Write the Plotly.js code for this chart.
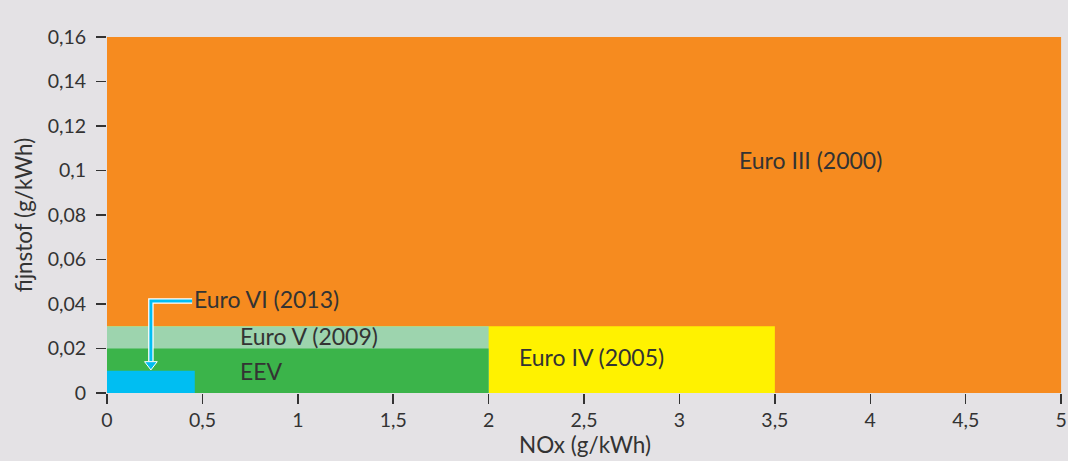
<!DOCTYPE html>
<html>
<head>
<meta charset="utf-8">
<script src="https://cdn.plot.ly/plotly-3.0.1.min.js"></script>
<style>
  html, body { margin: 0; padding: 0; background: #E4E2E5; }
  #chart { width: 1068px; height: 461px; }
</style>
</head>
<body>
<div id="chart"></div>
<script>
// Emission standards (heavy-duty): NOx limit (g/kWh) and particulate limit (g/kWh)
const stages   = ['Euro III (2000)', 'Euro IV (2005)', 'Euro V (2009)', 'EEV', 'Euro VI (2013)'];
const noxLimit = [5, 3.5, 2, 2, 0.46];
const pmLimit  = [0.16, 0.03, 0.03, 0.02, 0.01];
const stageColors = ['#F68B1F', '#FFF200', '#9DD4AE', '#3BB44A', '#00BEF2'];

const xTicks = [0, 0.5, 1, 1.5, 2, 2.5, 3, 3.5, 4, 4.5, 5];
const xTickText = ['0', '0,5', '1', '1,5', '2', '2,5', '3', '3,5', '4', '4,5', '5'];
const yTicks = [0, 0.02, 0.04, 0.06, 0.08, 0.1, 0.12, 0.14, 0.16];
const yTickText = ['0', '0,02', '0,04', '0,06', '0,08', '0,1', '0,12', '0,14', '0,16'];

// label placement (layout only)
const labelPlacement = [
  {x: 3.685, y: 0.1047, xanchor: 'center'},
  {x: 2.54, y: 0.0162, xanchor: 'center'},
  {x: 0.687, y: 0.0256, xanchor: 'left'},
  {x: 0.687, y: 0.0099, xanchor: 'left'},
  {x: 0.448, y: 0.0422, xanchor: 'left'}
];
// pointer geometry for the Euro VI callout (layout only)
const pointer = {xRight: 0.446, xDrop: 0.23, yElbow: 0.0413, yHeadTop: 0.0143, yHeadCenter: 0.01285};

const textColor = '#333333';
const FONT = 'Lato, "Open Sans", sans-serif';

const shapes = stages.map((s, i) => ({
  type: 'rect', xref: 'x', yref: 'y', layer: 'below',
  x0: 0, x1: noxLimit[i], y0: 0, y1: pmLimit[i],
  fillcolor: stageColors[i], line: {width: 0}
}));

const annotations = stages.map((s, i) => ({
  x: labelPlacement[i].x, y: labelPlacement[i].y, xref: 'x', yref: 'y',
  text: s, showarrow: false, xanchor: labelPlacement[i].xanchor, yanchor: 'middle',
  font: {family: FONT, size: 23, color: textColor}
}));

const vi = 4;
const elbowX = [pointer.xRight, pointer.xDrop, pointer.xDrop];
const elbowY = [pointer.yElbow, pointer.yElbow, pointer.yHeadTop];

const traces = [
  {x: elbowX, y: elbowY, type: 'scatter', mode: 'lines',
   line: {color: '#FFFFFF', width: 5.5}, hoverinfo: 'skip', showlegend: false},
  {x: elbowX, y: elbowY, type: 'scatter', mode: 'lines',
   line: {color: stageColors[vi], width: 3}, hoverinfo: 'skip', showlegend: false},
  {x: [pointer.xDrop], y: [pointer.yHeadCenter], type: 'scatter', mode: 'markers',
   marker: {symbol: 'triangle-down', size: 11, color: stageColors[vi], line: {color: '#FFFFFF', width: 1}},
   hoverinfo: 'skip', showlegend: false}
];

const layout = {
  width: 1068, height: 461,
  margin: {l: 107, r: 5, t: 37, b: 68, pad: 0},
  paper_bgcolor: '#E4E2E5', plot_bgcolor: '#E4E2E5',
  showlegend: false,
  separators: ',.',
  font: {family: FONT, size: 19, color: textColor},
  xaxis: {
    range: [0, 5.01], fixedrange: true,
    tickvals: xTicks, ticktext: xTickText,
    ticks: 'outside', ticklen: 10, tickwidth: 1.5, tickcolor: textColor,
    showgrid: false, zeroline: false, showline: false,
    tickfont: {family: FONT, size: 19.5, color: textColor},
    title: {text: 'NOx (g/kWh)', font: {family: FONT, size: 22.5, color: textColor}, standoff: 6}
  },
  yaxis: {
    range: [0, 0.16], fixedrange: true,
    tickvals: yTicks, ticktext: yTickText,
    ticks: 'outside', ticklen: 10, tickwidth: 1.5, tickcolor: textColor,
    ticklabelstandoff: 6,
    showgrid: false, zeroline: false, showline: false,
    tickfont: {family: FONT, size: 19.5, color: textColor},
    title: {text: 'fijnstof (g/kWh)', font: {family: FONT, size: 22.5, color: textColor}, standoff: 8}
  },
  shapes: shapes,
  annotations: annotations
};

Plotly.newPlot('chart', traces, layout, {displayModeBar: false, staticPlot: true});
</script>
</body>
</html>
